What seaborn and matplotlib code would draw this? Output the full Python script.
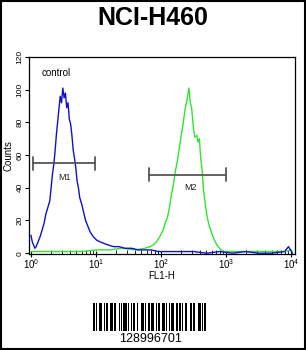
import numpy as np
import pandas as pd
import matplotlib
matplotlib.use("Agg")
import matplotlib.pyplot as plt
import seaborn as sns
from matplotlib.patches import Rectangle

# ---------------- data ----------------
title = "NCI-H460"
x_label = "FL1-H"
y_label = "Counts"
control_label = "control"

blue_logx = [0.00, 0.02, 0.04, 0.06, 0.08, 0.10, 0.12, 0.14, 0.17, 0.20,
             0.23, 0.26, 0.29, 0.31, 0.33, 0.35, 0.37, 0.39, 0.41, 0.43,
             0.45, 0.47, 0.49, 0.51, 0.53, 0.55, 0.57, 0.59, 0.61, 0.63,
             0.65, 0.67, 0.69, 0.71, 0.73, 0.75, 0.78, 0.81, 0.84, 0.87,
             0.91, 0.96, 1.01, 1.06, 1.12, 1.19, 1.27, 1.35, 1.45, 1.55,
             1.65, 1.75, 1.85, 1.95, 2.1, 2.3, 2.5, 2.7, 2.9, 3.1,
             3.3, 3.5, 3.7, 3.9, 3.96, 3.99, 4.02]
blue_counts = [11, 7, 5, 3, 4, 6, 8, 10, 14, 18,
               24, 28, 32, 40, 48, 54, 62, 72, 80, 88,
               96, 92, 101, 95, 98, 89, 92, 82, 79, 72,
               63, 58, 52, 44, 40, 34, 30, 25, 20, 17,
               13, 10, 8, 7, 6, 5, 4, 4, 3, 3,
               2, 2, 2, 1, 1, 1, 1, 0, 1, 0,
               1, 0, 0, 1, 4, 2, 0]

green_logx = [0.00, 0.2, 0.4, 0.6, 0.8, 1.0, 1.2, 1.4, 1.6, 1.75,
              1.83, 1.88, 1.93, 1.98, 2.03, 2.07, 2.10, 2.13, 2.16, 2.19,
              2.22, 2.25, 2.28, 2.31, 2.34, 2.37, 2.40, 2.43, 2.45, 2.47,
              2.50, 2.52, 2.55, 2.57, 2.59, 2.61, 2.63, 2.65, 2.68, 2.71,
              2.74, 2.78, 2.82, 2.86, 2.90, 2.95, 3.1, 3.3, 3.5, 3.7,
              3.9, 4.0, 4.02]
green_counts = [1, 1, 1, 1, 1, 2, 2, 3, 2, 3,
                4, 5, 7, 10, 14, 19, 22, 28, 36, 42,
                50, 56, 64, 72, 79, 88, 94, 101, 92, 89,
                76, 71, 72, 68, 70, 58, 52, 40, 30, 22,
                17, 12, 8, 5, 3, 1, 1, 1, 1, 1,
                1, 2, 0]

marker_names = ["M1", "M2"]
marker_lo = [1.07, 65]
marker_hi = [9.7, 1000]
marker_y = [55, 48]
marker_label_x = [3.3, 280]
marker_label_y = [46, 40]

x_ticks = [1, 10, 100, 1000, 10000]
x_tick_labels = [r"$10^{0}$", r"$10^{1}$", r"$10^{2}$", r"$10^{3}$", r"$10^{4}$"]
y_ticks = [0, 20, 40, 60, 80, 100, 120]

barcode_text = "128996701"
barcode_pattern = ("11010011100101100111011000101011110100101100100011101001101110"
                   "010110011101001011100110110100110001101100011101011")

# ---------------- plot ----------------
sns.set_style("ticks")
plt.rcParams["font.family"] = ["Liberation Sans", "DejaVu Sans"]
plt.rcParams["mathtext.fontset"] = "custom"
plt.rcParams["mathtext.rm"] = "Liberation Sans"
plt.rcParams["mathtext.it"] = "Liberation Sans"
for key in ["text.color", "axes.labelcolor", "xtick.color", "ytick.color",
            "axes.edgecolor"]:
    plt.rcParams[key] = "black"

fig = plt.figure(figsize=(3.06, 3.50), dpi=100)
ax = fig.add_axes([29 / 306, (350 - 254) / 350, 266 / 306, 197 / 350])

green_df = pd.DataFrame({"x": np.power(10.0, green_logx), "y": green_counts})
blue_df = pd.DataFrame({"x": np.power(10.0, blue_logx), "y": blue_counts})
sns.lineplot(data=green_df, x="x", y="y", ax=ax, color="#2ee62e", lw=1.0,
             sort=False, estimator=None)
sns.lineplot(data=blue_df, x="x", y="y", ax=ax, color="#1010c8", lw=1.0,
             sort=False, estimator=None)

ax.set_xscale("log")
ax.set_xlim(10 ** -0.03, 10 ** 4.06)
ax.set_ylim(-0.5, 120)

for name, lo, hi, yv, lx, ly in zip(marker_names, marker_lo, marker_hi, marker_y,
                                     marker_label_x, marker_label_y):
    ax.plot([lo, hi], [yv, yv], color="#555555", lw=1.3)
    ax.plot([lo, lo], [yv - 4, yv + 4], color="#555555", lw=1.3)
    ax.plot([hi, hi], [yv - 4, yv + 4], color="#555555", lw=1.3)
    ax.text(lx, ly, name, ha="center", va="center", fontsize=6.5, color="#222222")

ax.text(1.45, 110, control_label, ha="left", va="center", fontsize=7)

ax.set_xticks(x_ticks)
ax.set_xticklabels(x_tick_labels)
ax.set_yticks(y_ticks)
ax.set_yticklabels([str(v) for v in y_ticks], rotation=90, va="center")
ax.tick_params(axis="x", which="major", direction="inout", length=5, width=0.8,
               labelsize=7, pad=0)
ax.tick_params(axis="x", which="minor", direction="in", length=3, width=0.6)
ax.tick_params(axis="y", which="major", direction="out", length=3, width=0.8,
               labelsize=6, pad=1)
ax.set_xlabel(x_label, fontsize=7, labelpad=0)
ax.set_ylabel(y_label, fontsize=7, labelpad=2)
for s in ax.spines.values():
    s.set_linewidth(0.9)
    s.set_color("black")

fig.text(153 / 306, 1 - 18 / 350, title, ha="center", va="center",
         fontsize=18, fontweight="bold", color="black")

# barcode
bax = fig.add_axes([93 / 306, (350 - 331) / 350, 113 / 306, 28 / 350])
bars = [i for i, c in enumerate(barcode_pattern) if c == "1"]
bax.bar(bars, [1] * len(bars), width=1.0, color="black", align="edge", linewidth=0)
bax.set_xlim(0, len(barcode_pattern))
bax.set_ylim(0, 1)
bax.axis("off")
fig.text(150 / 306, 1 - 339 / 350, barcode_text, ha="center", va="center",
         fontsize=9, color="black")

fig.patches.append(Rectangle((0.002, 0.002), 0.996, 0.996, transform=fig.transFigure,
                             fill=False, edgecolor="black", lw=1.5))

fig.savefig("out.png", dpi=100)
